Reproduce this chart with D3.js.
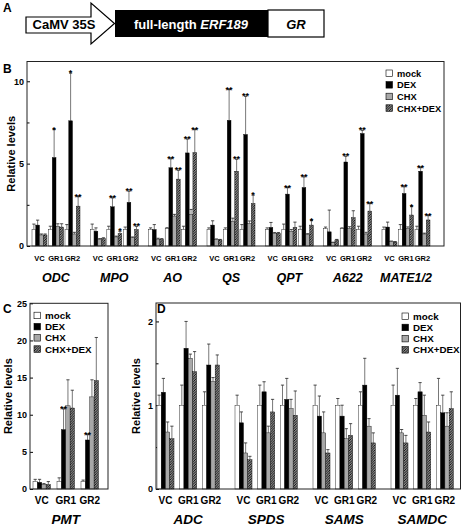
<!DOCTYPE html>
<html><head><meta charset="utf-8">
<script src="https://cdn.jsdelivr.net/npm/d3@7"></script>
<style>body{margin:0;background:#fff}svg{display:block}text{font-family:"Liberation Sans",Arial,sans-serif;font-weight:bold}</style>
</head><body>
<svg id="c" width="462" height="526"></svg>
<script>
const series = ["mock","DEX","CHX","CHX+DEX"];
const lines = ["VC","GR1","GR2"];
const fills = ["#ffffff","#000000","#a8a8a8","url(#hatch)"];

// Panel B
const genesB = ["ODC","MPO","AO","QS","QPT","A622","MATE1/2"];
const meanB = [
  [[1.0,1.27,0.67,0.67],[1.0,5.37,1.2,1.15],[1.0,7.6,0.73,2.42]],
  [[1.0,0.9,0.4,0.45],[1.0,2.38,0.55,0.75],[1.0,2.65,0.5,1.0]],
  [[1.0,1.0,0.42,0.4],[1.06,4.75,1.82,4.06],[1.0,5.65,1.92,5.67]],
  [[1.0,1.27,0.4,0.37],[1.0,7.63,1.49,4.54],[1.0,6.77,1.37,2.58]],
  [[1.0,1.13,0.77,0.77],[1.0,3.15,0.9,1.13],[1.0,3.55,0.7,1.27]],
  [[1.05,0.86,0.2,0.37],[1.05,5.1,1.07,1.72],[1.0,6.83,0.73,2.12]],
  [[1.0,1.15,0.27,0.24],[1.0,3.19,1.06,1.88],[1.0,4.54,0.73,1.58]]
];
const errB = [
  [[0.33,0.3,0.06,0.06],[0.2,1.7,0.15,0.2],[0.3,2.9,0.1,0.58]],
  [[0.33,0.2,0.05,0.05],[0.2,0.55,0.05,0.15],[0.15,0.68,0.05,0.2]],
  [[0.1,0.3,0.05,0.05],[0.05,0.55,0.1,0.54],[0.2,0.85,0.3,1.4]],
  [[0.1,0.26,0.03,0.03],[0.1,1.87,0.2,0.73],[0.3,2.32,0.15,0.51]],
  [[0.1,0.3,0.05,0.05],[0.33,0.4,0.1,0.32],[0.2,0.65,0.05,0.28]],
  [[0.1,1.32,0.03,0.03],[0.05,0.35,0.1,0.42],[0.2,0.2,0.1,0.46]],
  [[0.15,0.3,0.03,0.03],[0.3,0.41,0.1,0.52],[0.2,0.23,0.05,0.28]]
];
const sigB = [
  [["","","",""],["","*","",""],["","*","","**"]],
  [["","","",""],["","**","","*"],["","**","","**"]],
  [["","","",""],["","**","","**"],["","**","","**"]],
  [["","","",""],["","**","","**"],["","**","","*"]],
  [["","","",""],["","**","",""],["","**","","*"]],
  [["","","",""],["","**","",""],["","**","","**"]],
  [["","","",""],["","**","","*"],["","**","","**"]]
];
const ticksB = [0,5,10];

// Panel C
const genesC = ["PMT"];
const meanC = [[[1.0,0.9,0.63,0.6],[1.0,8.0,11.2,10.9],[1.0,6.6,12.4,14.6]]];
const errC  = [[[0.3,0.4,0.1,0.4],[0.5,2.8,3.5,2.4],[0.2,0.75,2.3,5.8]]];
const sigC  = [[["","","",""],["","**","",""],["","**","",""]]];
const ticksC = [0,5,10,15,20,25];

// Panel D
const genesD = ["ADC","SPDS","SAMS","SAMDC"];
const meanD = [
  [[1.0,1.155,0.68,0.6],[1.0,1.68,1.56,1.40],[1.0,1.48,1.28,1.48]],
  [[1.0,0.79,0.43,0.35],[1.0,1.16,0.67,0.92],[1.0,1.07,0.96,0.88]],
  [[1.0,0.87,0.67,0.43],[1.0,0.87,0.6,0.64],[1.0,1.24,0.75,0.55]],
  [[1.0,1.12,0.67,0.55],[1.0,1.16,0.88,0.68],[1.0,0.91,0.75,0.96]]
];
const errD = [
  [[0.12,0.165,0.12,0.15],[0.24,0.32,0.05,0.24],[0.16,0.25,0.05,0.12]],
  [[0.12,0.13,0.12,0.04],[0.24,0.12,0.08,0.15],[0.24,0.25,0.11,0.29]],
  [[0.24,0.24,0.25,0.04],[0.08,0.13,0.12,0.14],[0.16,0.32,0.09,0.12]],
  [[0.24,0.32,0.04,0.09],[0.08,0.11,0.24,0.12],[0.32,0.21,0.16,0.2]]
];
const sigD = genesD.map(() => lines.map(() => ["","","",""]));
const ticksD = [0,1,2];

const svg = d3.select("#c");
svg.append("rect").attr("width",462).attr("height",526).attr("fill","#fff");
const defs = svg.append("defs");
const pat = defs.append("pattern").attr("id","hatch").attr("patternUnits","userSpaceOnUse")
  .attr("width",2.5).attr("height",2.5);
pat.append("rect").attr("width",2.5).attr("height",2.5).attr("fill","#fff");
pat.append("path").attr("d","M-0.625,0.625 L0.625,-0.625 M0,2.5 L2.5,0 M1.875,3.125 L3.125,1.875")
  .attr("stroke","#000").attr("stroke-width",1.1);

// ---------- Panel A ----------
const A = svg.append("g");
A.append("text").attr("x",3).attr("y",12).attr("font-size",12).text("A");
A.append("path").attr("d","M26,17 L91,17 L91,3 L114.5,23.5 L91,44 L91,33 L26,33 Z")
  .attr("fill","#fff").attr("stroke","#000").attr("stroke-width",1.2);
A.append("text").attr("x",64).attr("y",28.5).attr("text-anchor","middle").attr("font-size",13).text("CaMV 35S");
A.append("rect").attr("x",115).attr("y",10).attr("width",153).attr("height",27).attr("fill","#000");
A.append("rect").attr("x",268).attr("y",10).attr("width",56).attr("height",27).attr("fill","#fff").attr("stroke","#000").attr("stroke-width",1.2);
const ft = A.append("text").attr("x",191).attr("y",28.5).attr("text-anchor","middle").attr("font-size",13).attr("fill","#fff");
ft.append("tspan").text("full-length ");
ft.append("tspan").attr("font-style","italic").text("ERF189");
A.append("text").attr("x",296).attr("y",28.5).attr("text-anchor","middle").attr("font-size",13).attr("font-style","italic").text("GR");

// ---------- generic panel ----------
function panel(o){
  const g = svg.append("g");
  const y = d3.scaleLinear().domain([0,o.ymax]).range([o.bottom,o.top]);
  g.append("text").attr("x",o.letter[0]).attr("y",o.letter[1]).attr("font-size",12).text(o.letterText);
  const ax = g.append("g").attr("transform",`translate(${o.left},0)`)
    .call(d3.axisLeft(y).tickValues(o.ticks).tickSize(-3).tickPadding(3).tickFormat(d3.format("d")));
  ax.select(".domain").remove();
  ax.selectAll("text").attr("font-size",9).attr("font-family","Liberation Sans, Arial, sans-serif").attr("font-weight","bold");
  ax.selectAll("line").attr("stroke","#000");
  if (o.minor){
    const mx = g.append("g").attr("transform",`translate(${o.left},0)`)
      .call(d3.axisLeft(y).tickValues(o.minor).tickSize(-2.5).tickFormat(""));
    mx.select(".domain").remove();
  }
  g.append("text").attr("transform",`translate(${o.ylabX},${(o.top+o.bottom)/2}) rotate(-90)`)
    .attr("text-anchor","middle").attr("font-size",11).text("Relative levels");
  const x0 = d3.scaleBand().domain(o.genes).range(o.xr).paddingInner(o.gpad).paddingOuter(0);
  const x1 = d3.scaleBand().domain(lines).range([0,x0.bandwidth()]).paddingInner(o.lpad).paddingOuter(0);
  const x2 = d3.scaleBand().domain(series).range([0,x1.bandwidth()]);
  const sigLayer = g.append("g").attr("opacity",0.99);
  o.genes.forEach((gn,gi)=>{
    lines.forEach((ln,li)=>{
      const base = x0(gn)+x1(ln);
      series.forEach((s,si)=>{
        const v = o.mean[gi][li][si], e = o.err[gi][li][si];
        const bx = base + x2(s), bw = x2.bandwidth(), cx = bx+bw/2;
        const top = y(v+e);
        g.append("line").attr("x1",cx).attr("x2",cx).attr("y1",y(v)).attr("y2",top)
          .attr("stroke","#555").attr("stroke-width",0.8);
        g.append("line").attr("x1",cx-1.6).attr("x2",cx+1.6).attr("y1",top).attr("y2",top)
          .attr("stroke","#222").attr("stroke-width",0.8);
        g.append("rect").attr("x",bx).attr("y",y(v)).attr("width",bw).attr("height",o.bottom-y(v))
          .attr("fill",fills[si]).attr("stroke","#000").attr("stroke-width",0.4);
        const sg = o.sig[gi][li][si];
        if (sg) sigLayer.append("text").attr("x",cx).attr("y",top+3.2).attr("text-anchor","middle")
          .attr("font-size",9).attr("fill","#000").text(sg);
      });
      g.append("text").attr("x",base+x1.bandwidth()/2).attr("y",o.subY).attr("text-anchor","middle")
        .attr("font-size",o.subFont).text(ln);
    });
    g.append("text").attr("x",x0(gn)+x0.bandwidth()/2).attr("y",o.geneY).attr("text-anchor","middle")
      .attr("font-size",o.geneFont).attr("font-style","italic").text(gn);
  });
  sigLayer.raise();
  g.append("rect").attr("x",o.left).attr("y",o.top).attr("width",o.right-o.left).attr("height",o.bottom-o.top)
    .attr("fill","none").attr("stroke","#222").attr("stroke-width",1);
  const lg = g.append("g");
  series.forEach((s,i)=>{
    const yy = o.leg[1] + i*o.leg[3];
    lg.append("rect").attr("x",o.leg[0]).attr("y",yy-3.5).attr("width",6.5).attr("height",6.5)
      .attr("fill",fills[i]).attr("stroke","#000").attr("stroke-width",0.6);
    lg.append("text").attr("x",o.leg[0]+11).attr("y",yy+3.3).attr("font-size",o.leg[2]).text(s);
  });
}

panel({letterText:"B",letter:[3,73],genes:genesB,mean:meanB,err:errB,sig:sigB,ymax:11.2,
  top:61.5,bottom:246,left:27,right:444,ticks:ticksB,minor:[2.5,7.5],ylabX:15,
  xr:[32,430],gpad:0.177,lpad:0.09,subY:261,subFont:7.5,geneY:282,geneFont:12.5,
  leg:[386,73.5,9.3,11.6]});
panel({letterText:"C",letter:[3,313],genes:genesC,mean:meanC,err:errC,sig:sigC,ymax:25,
  top:303.3,bottom:489,left:30,right:108,ticks:ticksC,minor:null,ylabX:12,
  xr:[33,98.5],gpad:0,lpad:0.27,subY:504,subFont:10,geneY:524,geneFont:13.5,
  leg:[34,315.7,9.8,11.2]});
panel({letterText:"D",letter:[157,313],genes:genesD,mean:meanD,err:errD,sig:sigD,ymax:2.22,
  top:303,bottom:489,left:156,right:460.5,ticks:ticksD,minor:[0.5,1.5],ylabX:140,
  xr:[157,453.4],gpad:0.2,lpad:0.25,subY:504,subFont:10,geneY:524,geneFont:13.5,
  leg:[402,316.5,9.8,11.2]});
</script>
</body></html>
